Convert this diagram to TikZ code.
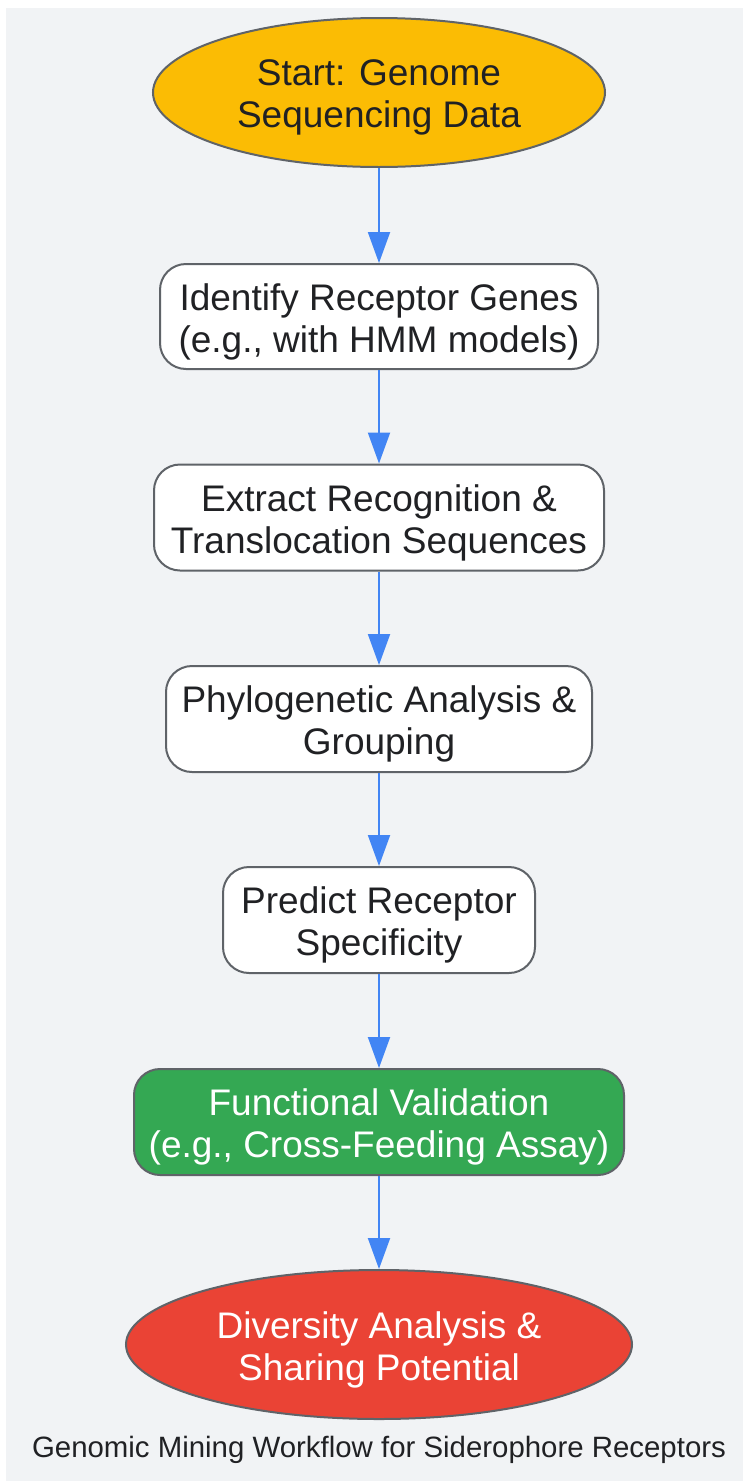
\documentclass[tikz,border=0pt]{standalone}
\usepackage{fontspec}
\setmainfont{Liberation Sans}
\usetikzlibrary{shapes.geometric,arrows.meta}
\definecolor{bg}{HTML}{F1F3F5}
\definecolor{bord}{HTML}{5F6368}
\definecolor{txt}{HTML}{202124}
\definecolor{cyellow}{HTML}{FBBC04}
\definecolor{cgreen}{HTML}{34A853}
\definecolor{cred}{HTML}{EA4335}
\definecolor{carrow}{HTML}{4285F4}
\tikzset{
  base/.style={draw=bord, line width=2pt, inner sep=0pt},
  roundbox/.style={base, rectangle, rounded corners=26pt, fill=white},
  oval/.style={base, ellipse},
  lbl/.style={inner sep=0pt, align=center, font=\fontsize{37}{42}\selectfont, text=txt},
  flow/.style={draw=carrow, line width=2pt, -{Triangle[length=31pt,width=22pt]}},
}
\begin{document}
\begin{tikzpicture}[x=1pt,y=-1pt]
\useasboundingbox (0,0) rectangle (743,1481);
\fill[bg] (6,8) rectangle (743,1481);
\node[oval, fill=cyellow, minimum width=452pt, minimum height=149pt] (n1) at (379,92.5) {};
\node[lbl] (t1) at ([yshift=-5pt]n1.center) {Start: Genome\\Sequencing Data};
\node[roundbox, minimum width=438pt, minimum height=105pt] (n2) at (379,316.5) {};
\node[lbl] (t2) at ([yshift=-5pt]n2.center) {Identify Receptor Genes\\(e.g., with HMM models)};
\node[roundbox, minimum width=450pt, minimum height=106pt] (n3) at (379,517.5) {};
\node[lbl] (t3) at ([yshift=-5pt]n3.center) {Extract Recognition \&\\Translocation Sequences};
\node[roundbox, minimum width=426pt, minimum height=106pt] (n4) at (379,719) {};
\node[lbl] (t4) at ([yshift=-5pt]n4.center) {Phylogenetic Analysis \&\\Grouping};
\node[roundbox, minimum width=312pt, minimum height=106pt] (n5) at (379,920) {};
\node[lbl] (t5) at ([yshift=-5pt]n5.center) {Predict Receptor\\Specificity};
\node[roundbox, fill=cgreen, minimum width=490pt, minimum height=106pt] (n6) at (379,1122) {};
\node[lbl, text=white] (t6) at ([yshift=-5pt]n6.center) {Functional Validation\\(e.g., Cross-Feeding Assay)};
\node[oval, fill=cred, minimum width=506pt, minimum height=149pt] (n7) at (379,1344.5) {};
\node[lbl, text=white] (t7) at ([yshift=-5pt]n7.center) {Diversity Analysis \&\\Sharing Potential};
\node[font=\fontsize{29.4}{34}\selectfont, text=txt, inner sep=0pt] (title) at (379,1450) {Genomic Mining Workflow for Siderophore Receptors};
\draw[flow] (n1) -- (n2);
\draw[flow] (n2) -- (n3);
\draw[flow] (n3) -- (n4);
\draw[flow] (n4) -- (n5);
\draw[flow] (n5) -- (n6);
\draw[flow] (n6) -- (n7);
\end{tikzpicture}
\end{document}
